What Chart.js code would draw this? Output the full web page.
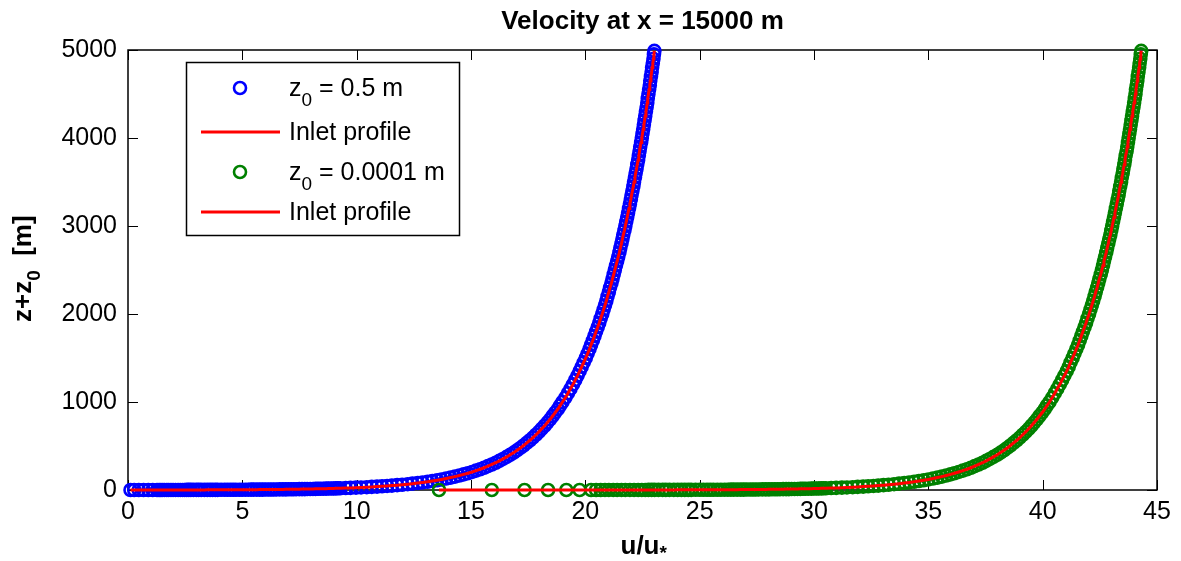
<!DOCTYPE html>
<html>
<head>
<meta charset="utf-8">
<title>Velocity at x = 15000 m</title>
<script src="https://cdn.jsdelivr.net/npm/chart.js@4.4.1/dist/chart.umd.min.js"></script>
<style>
  html, body { margin: 0; padding: 0; background: #fff; }
  #wrap { width: 1181px; height: 561px; }
</style>
</head>
<body>
<div id="wrap"><canvas id="chart" width="1181" height="561"></canvas></div>
<script>
// Velocity profile plot — z0 = 0.5 m vs z0 = 0.0001 m, with inlet profiles

// ── Data ────────────────────────────────────────────────────
// heights z+z0 [m], shared by both roughness cases
const heights = [
  0.023, 0.058, 0.103, 0.155, 0.214, 0.27, 0.33, 0.36, 0.39, 0.42,
  0.45, 0.485, 0.52, 0.56, 0.6, 0.65, 0.7, 0.75, 0.8, 0.85,
  0.9, 0.95, 1.0, 1.07, 1.15, 1.22, 1.3, 1.4, 1.5, 1.6,
  1.7, 1.8, 1.9, 2.05, 2.2, 2.35, 2.5, 2.65, 2.8, 3.0,
  3.2, 3.4, 3.6, 3.8, 4.0, 4.25, 4.5, 4.75, 5.0, 5.3,
  5.6, 5.9, 6.2, 6.6, 7.0, 7.4, 7.8, 8.2, 8.6, 9.0,
  9.5, 10.0, 10.5, 11.0, 11.6, 12.2, 12.8, 13.4, 14, 14.7,
  15.5, 16.2, 17, 17.7, 18.5, 19.2, 20,
  22, 24, 26.5, 29, 32, 35, 38.5, 42,
  46, 50, 55, 60, 66, 72, 79, 86, 94, 102,
  111, 120, 130, 141, 152, 164, 177, 190, 205, 220,
  236, 253, 271, 290, 310, 331, 353, 376, 400, 425,
  451, 478, 506, 535, 565, 596, 628, 661, 695, 730,
  766, 803, 841, 880, 920,
  960, 1000, 1050, 1100, 1150, 1200, 1250, 1300, 1350, 1400, 1450,
  1500, 1550, 1600, 1650, 1700, 1750, 1800, 1850, 1900, 1950,
  2000, 2050, 2100, 2150, 2200, 2250, 2300, 2350, 2400, 2450,
  2500, 2550, 2600, 2650, 2700, 2750, 2800, 2850, 2900, 2950,
  3000, 3050, 3100, 3150, 3200, 3250, 3300, 3350, 3400, 3450,
  3500, 3550, 3600, 3650, 3700, 3750, 3800, 3850, 3900, 3950,
  4000, 4050, 4100, 4150, 4200, 4250, 4300, 4350, 4400, 4450,
  4500, 4550, 4600, 4650, 4700, 4750, 4800, 4850, 4900, 4950,
  4990
];

// u/u* for z0 = 0.5 m
const uBlue = [
  0.11, 0.27, 0.47, 0.68, 0.89, 1.08, 1.27, 1.36, 1.44, 1.52,
  1.60, 1.70, 1.78, 1.88, 1.97, 2.08, 2.19, 2.29, 2.39, 2.48,
  2.57, 2.66, 2.75, 2.86, 2.99, 3.09, 3.20, 3.34, 3.47, 3.59,
  3.70, 3.82, 3.92, 4.07, 4.22, 4.35, 4.48, 4.60, 4.72, 4.87,
  5.00, 5.14, 5.26, 5.38, 5.49, 5.63, 5.76, 5.88, 6.00, 6.13,
  6.25, 6.37, 6.49, 6.63, 6.77, 6.90, 7.02, 7.14, 7.25, 7.36,
  7.49, 7.61, 7.73, 7.84, 7.97, 8.09, 8.20, 8.31, 8.42, 8.54,
  8.66, 8.77, 8.89, 8.99, 9.09, 9.18, 9.28,
  9.52, 9.73, 9.97, 10.19, 10.44, 10.66, 10.89, 11.11,
  11.33, 11.54, 11.77, 11.99, 12.23, 12.44, 12.67, 12.88, 13.10, 13.31,
  13.52, 13.71, 13.91, 14.11, 14.30, 14.49, 14.68, 14.86, 15.05, 15.22,
  15.40, 15.57, 15.74, 15.91, 16.08, 16.24, 16.40, 16.56, 16.71, 16.87,
  17.01, 17.16, 17.30, 17.44, 17.58, 17.71, 17.84, 17.97, 18.09, 18.22,
  18.34, 18.46, 18.57, 18.68, 18.80,
  18.90, 19.00, 19.13, 19.24, 19.35, 19.46, 19.56, 19.66, 19.75, 19.84, 19.93,
  20.02, 20.10, 20.18, 20.25, 20.33, 20.40, 20.47, 20.54, 20.61, 20.67,
  20.74, 20.80, 20.86, 20.92, 20.97, 21.03, 21.08, 21.14, 21.19, 21.24,
  21.29, 21.34, 21.39, 21.44, 21.49, 21.53, 21.58, 21.62, 21.66, 21.71,
  21.75, 21.79, 21.83, 21.87, 21.91, 21.95, 21.99, 22.02, 22.06, 22.10,
  22.13, 22.17, 22.20, 22.24, 22.27, 22.31, 22.34, 22.37, 22.40, 22.44,
  22.47, 22.50, 22.53, 22.56, 22.59, 22.62, 22.65, 22.68, 22.71, 22.73,
  22.76, 22.79, 22.82, 22.84, 22.87, 22.90, 22.92, 22.95, 22.98, 23.00,
  23.02
];

// u/u* for z0 = 0.0001 m
const uGreen = [
  13.60, 15.91, 17.34, 18.37, 19.17, 19.75, 20.25, 20.47, 20.67, 20.86,
  21.03, 21.22, 21.39, 21.58, 21.75, 21.95, 22.13, 22.31, 22.47, 22.62,
  22.76, 22.90, 23.03, 23.20, 23.38, 23.52, 23.68, 23.87, 24.04, 24.20,
  24.35, 24.50, 24.63, 24.82, 25.00, 25.16, 25.32, 25.46, 25.60, 25.77,
  25.93, 26.09, 26.23, 26.36, 26.49, 26.64, 26.79, 26.92, 27.05, 27.20,
  27.33, 27.46, 27.59, 27.74, 27.89, 28.03, 28.16, 28.29, 28.41, 28.52,
  28.65, 28.78, 28.90, 29.02, 29.15, 29.28, 29.40, 29.51, 29.62, 29.75,
  29.88, 29.99, 30.11, 30.21, 30.32, 30.41, 30.52,
  30.75, 30.97, 31.22, 31.44, 31.69, 31.91, 32.15, 32.37,
  32.60, 32.81, 33.04, 33.26, 33.50, 33.72, 33.95, 34.16, 34.38, 34.59,
  34.80, 35.00, 35.20, 35.40, 35.59, 35.78, 35.97, 36.14, 36.33, 36.51,
  36.69, 36.86, 37.03, 37.20, 37.37, 37.53, 37.69, 37.85, 38.01, 38.16,
  38.31, 38.45, 38.59, 38.73, 38.87, 39.00, 39.13, 39.26, 39.39, 39.51,
  39.63, 39.75, 39.86, 39.98, 40.09,
  40.19, 40.30, 40.42, 40.53, 40.64, 40.75, 40.85, 40.95, 41.05, 41.14, 41.22,
  41.31, 41.39, 41.47, 41.55, 41.62, 41.69, 41.76, 41.83, 41.90, 41.96,
  42.03, 42.09, 42.15, 42.21, 42.27, 42.32, 42.38, 42.43, 42.48, 42.54,
  42.59, 42.64, 42.68, 42.73, 42.78, 42.82, 42.87, 42.91, 42.96, 43.00,
  43.04, 43.08, 43.12, 43.16, 43.20, 43.24, 43.28, 43.32, 43.35, 43.39,
  43.43, 43.46, 43.50, 43.53, 43.57, 43.60, 43.63, 43.67, 43.70, 43.73,
  43.76, 43.79, 43.82, 43.85, 43.88, 43.91, 43.94, 43.97, 44.00, 44.03,
  44.06, 44.08, 44.11, 44.14, 44.16, 44.19, 44.22, 44.24, 44.27, 44.29,
  44.31
];

const xTicks = [0, 5, 10, 15, 20, 25, 30, 35, 40, 45];
const yTicks = [0, 1000, 2000, 3000, 4000, 5000];

const titleText = 'Velocity at x = 15000 m';
const legendRows = [
  { kind: 'circle', color: '#0000ff', parts: [['z'], ['0', 1], [' = 0.5 m']] },
  { kind: 'line',   color: '#ff0000', parts: [['Inlet profile']] },
  { kind: 'circle', color: '#008000', parts: [['z'], ['0', 1], [' = 0.0001 m']] },
  { kind: 'line',   color: '#ff0000', parts: [['Inlet profile']] },
];

// ── Styling ─────────────────────────────────────────────────
const FAMILY = '"Liberation Sans", Arial, Helvetica, sans-serif';
const BLUE = '#0000ff', GREEN = '#008000', RED = '#ff0000';
const TICK_LEN = 10;

function pts(us) { return heights.map((h, i) => ({ x: us[i], y: h })); }

function circles(label, us, color, order) {
  return {
    label, data: pts(us), order, clip: false, showLine: false,
    pointStyle: 'circle', pointRadius: 6, pointHoverRadius: 6,
    pointBorderWidth: 2.6, pointBackgroundColor: 'rgba(0,0,0,0)', pointBorderColor: color,
  };
}

function profile(us, order) {
  return {
    label: 'Inlet profile', data: pts(us), order, clip: false, showLine: true,
    borderColor: RED, borderWidth: 3, pointRadius: 0, pointHoverRadius: 0, fill: false,
  };
}

// draw text made of [text, isSub] pieces starting at x, baseline y
function drawParts(ctx, parts, x, y, size, bold, subDrop) {
  const w = bold ? 'bold ' : '';
  parts.forEach(([t, sub]) => {
    const s = sub ? Math.round(size * 0.74) : size;
    ctx.font = `${w}${s}px ${FAMILY}`;
    ctx.fillText(t, x, sub ? y + subDrop : y);
    x += ctx.measureText(t).width;
  });
  return x;
}

// axes box + inward ticks on all four sides (drawn under the data)
const framePlugin = {
  id: 'frame',
  beforeDatasetsDraw(chart) {
    const { ctx, chartArea: a, scales: { x, y } } = chart;
    ctx.save();
    ctx.strokeStyle = '#000';
    ctx.lineWidth = 1;
    ctx.beginPath();
    xTicks.forEach(v => {
      const px = Math.round(x.getPixelForValue(v)) + 0.5;
      ctx.moveTo(px, a.bottom); ctx.lineTo(px, a.bottom - TICK_LEN);
      ctx.moveTo(px, a.top);    ctx.lineTo(px, a.top + TICK_LEN);
    });
    yTicks.forEach(v => {
      const py = Math.round(y.getPixelForValue(v)) + 0.5;
      ctx.moveTo(a.left, py);  ctx.lineTo(a.left + TICK_LEN, py);
      ctx.moveTo(a.right, py); ctx.lineTo(a.right - TICK_LEN, py);
    });
    ctx.stroke();
    ctx.lineWidth = 1.5;
    ctx.strokeRect(a.left, a.top, a.right - a.left, a.bottom - a.top);
    ctx.restore();
  }
};

// title, axis labels with subscripts, MATLAB-like legend box
const textPlugin = {
  id: 'texts',
  afterDraw(chart) {
    const { ctx, chartArea: a } = chart;
    const cx = (a.left + a.right) / 2;
    ctx.save();
    ctx.fillStyle = '#000';
    ctx.textBaseline = 'alphabetic';
    ctx.textAlign = 'left';

    // title
    ctx.font = `bold 26px ${FAMILY}`;
    const tw = ctx.measureText(titleText).width;
    ctx.fillText(titleText, cx - tw / 2, 29);

    // x axis title u/u*
    drawParts(ctx, [['u/u'], ['*', 1]], cx - 22, 554, 26, true, 5);

    // y axis title z+z0 [m]
    ctx.save();
    ctx.translate(31, 322);
    ctx.rotate(-Math.PI / 2);
    drawParts(ctx, [['z+z'], ['0', 1], ['  [m]']], 0, 0, 26, true, 9);
    ctx.restore();

    // legend
    const box = { x: 186, y: 62, w: 273, h: 173 };
    ctx.fillStyle = '#fff';
    ctx.fillRect(box.x, box.y, box.w, box.h);
    ctx.strokeStyle = '#000';
    ctx.lineWidth = 1.5;
    ctx.strokeRect(box.x + 0.5, box.y + 0.5, box.w, box.h);
    const rowY = [88, 132, 172, 212];
    legendRows.forEach((r, i) => {
      const yy = rowY[i];
      if (r.kind === 'circle') {
        ctx.beginPath();
        ctx.arc(240, yy, 6, 0, Math.PI * 2);
        ctx.strokeStyle = r.color;
        ctx.lineWidth = 2.6;
        ctx.stroke();
      } else {
        ctx.beginPath();
        ctx.moveTo(201, yy); ctx.lineTo(280, yy);
        ctx.strokeStyle = r.color;
        ctx.lineWidth = 3;
        ctx.stroke();
      }
      ctx.fillStyle = '#000';
      drawParts(ctx, r.parts, 289, yy + 8, 25, false, 10);
    });
    ctx.restore();
  }
};

Chart.defaults.font.family = FAMILY;
Chart.defaults.color = '#000';

const chart = new Chart(document.getElementById('chart').getContext('2d'), {
  type: 'scatter',
  data: {
    datasets: [
      circles('z0 = 0.5 m', uBlue, BLUE, 4),
      profile(uBlue, 3),
      circles('z0 = 0.0001 m', uGreen, GREEN, 2),
      profile(uGreen, 1),
    ]
  },
  options: {
    responsive: false,
    animation: false,
    devicePixelRatio: 1,
    layout: { padding: { left: 0, top: 50, right: 24, bottom: 0 } },
    plugins: { legend: { display: false }, title: { display: false }, tooltip: { enabled: false } },
    scales: {
      x: {
        type: 'linear', min: 0, max: 45,
        afterBuildTicks: s => { s.ticks = xTicks.map(v => ({ value: v })); },
        afterFit: s => { s.height = 71; },
        grid: { display: false, drawTicks: false },
        border: { display: false },
        ticks: { font: { size: 25 }, color: '#000', padding: 7, maxRotation: 0, callback: v => String(v) },
      },
      y: {
        type: 'linear', min: 0, max: 5000,
        afterBuildTicks: s => { s.ticks = yTicks.map(v => ({ value: v })); },
        afterFit: s => { s.width = 128; },
        grid: { display: false, drawTicks: false },
        border: { display: false },
        ticks: { font: { size: 25 }, color: '#000', padding: 11, callback: v => String(v) },
      }
    }
  },
  plugins: [framePlugin, textPlugin]
});
</script>
</body>
</html>
